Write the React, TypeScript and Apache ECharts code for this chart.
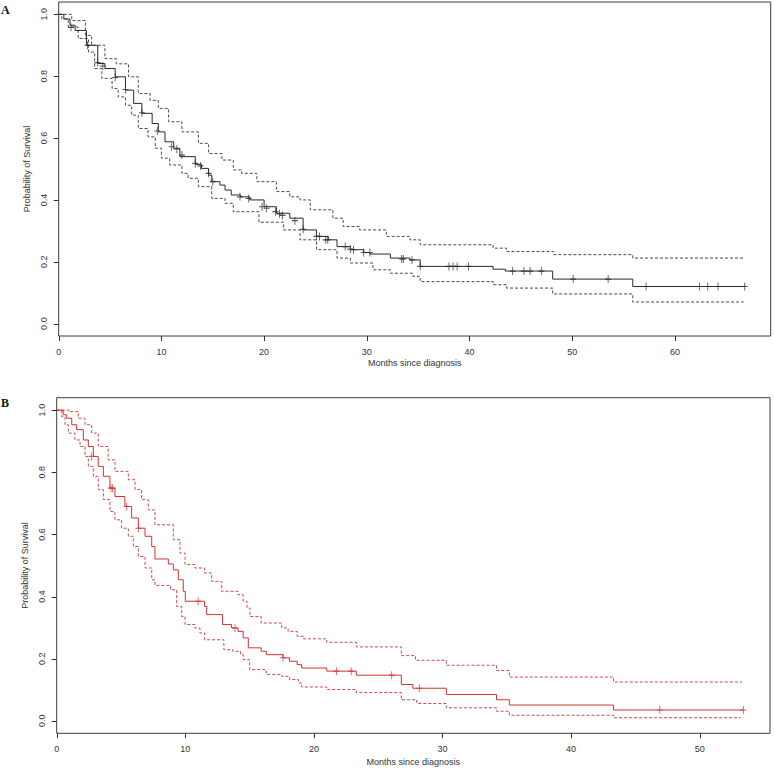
import React, { useEffect, useRef } from 'react';
import * as echarts from 'echarts';

// ---------- Panel A (all patients) : [months, survival] ----------
const survA: number[][] = [
  [0, 1.0], [0.5, 0.985], [1.1, 0.965], [1.6, 0.948], [2.7, 0.9], [3.8, 0.841], [4.5, 0.825],
  [5.5, 0.798], [6.5, 0.755], [7.3, 0.712], [8.1, 0.68], [9.1, 0.647], [9.7, 0.62], [10.35, 0.588],
  [11.2, 0.567], [11.8, 0.54], [13.3, 0.515], [13.9, 0.502], [14.6, 0.48], [14.9, 0.459],
  [15.7, 0.448], [16.2, 0.432], [16.8, 0.416], [17.7, 0.41], [18.6, 0.4], [20.0, 0.378],
  [21.2, 0.357], [22.5, 0.341], [23.8, 0.303], [25.1, 0.282], [26.25, 0.271], [27.1, 0.249],
  [28.4, 0.239], [29.7, 0.23], [30.3, 0.225], [32.3, 0.212], [34.2, 0.206], [35.2, 0.185],
  [42.3, 0.176], [43.5, 0.17], [48.1, 0.144], [55.9, 0.12], [66.8, 0.12]
];
const upperA: number[][] = [
  [0, 1.0], [1.27, 0.98], [2.6, 0.932], [3.2, 0.9], [4.5, 0.857], [5.6, 0.84], [6.8, 0.798],
  [7.75, 0.744], [8.9, 0.722], [9.7, 0.696], [10.7, 0.653], [12.0, 0.62], [13.6, 0.583],
  [14.6, 0.55], [15.9, 0.529], [17.0, 0.497], [17.8, 0.486], [19.3, 0.459], [21.2, 0.427],
  [22.5, 0.41], [23.5, 0.4], [24.5, 0.368], [26.7, 0.341], [27.7, 0.314], [29.3, 0.303],
  [31.9, 0.282], [34.2, 0.271], [35.2, 0.255], [42.3, 0.244], [43.6, 0.233], [48.2, 0.223],
  [55.9, 0.212], [66.8, 0.212]
];
const lowerA: number[][] = [
  [0, 1.0], [0.3, 0.986], [0.93, 0.959], [1.9, 0.922], [2.9, 0.878], [3.5, 0.825], [4.2, 0.793],
  [5.2, 0.76], [5.8, 0.733], [6.5, 0.706], [7.1, 0.674], [7.75, 0.631], [8.7, 0.604], [9.4, 0.567],
  [10.0, 0.535], [10.8, 0.513], [12.0, 0.486], [12.6, 0.47], [13.6, 0.443], [14.9, 0.405],
  [16.2, 0.389], [17.0, 0.362], [19.5, 0.328], [21.9, 0.303], [23.5, 0.271], [25.1, 0.239],
  [27.1, 0.212], [28.4, 0.196], [30.6, 0.174], [32.3, 0.163], [34.5, 0.153], [35.2, 0.136],
  [42.3, 0.126], [43.6, 0.115], [48.1, 0.096], [55.9, 0.07], [66.7, 0.07]
];
const censorA: number[][] = [
  [1.2, 0.958], [2.8, 0.9], [3.8, 0.844], [4.3, 0.833], [5.5, 0.796], [6.5, 0.757], [8.1, 0.682],
  [9.6, 0.623], [11.0, 0.572], [11.5, 0.565], [12.0, 0.545], [13.3, 0.518], [13.8, 0.51],
  [14.6, 0.486], [15.0, 0.459], [17.65, 0.41], [18.5, 0.405], [19.8, 0.378], [20.25, 0.373],
  [21.1, 0.362], [21.5, 0.355], [21.8, 0.35], [23.0, 0.333], [23.8, 0.305], [25.1, 0.282],
  [25.4, 0.282], [26.0, 0.271], [26.2, 0.271], [27.9, 0.249], [28.4, 0.241], [28.7, 0.239],
  [29.7, 0.23], [30.3, 0.23], [33.4, 0.209], [33.55, 0.209], [34.4, 0.206], [35.2, 0.185],
  [38.0, 0.185], [38.4, 0.185], [38.8, 0.185], [39.9, 0.185], [44.2, 0.17], [45.3, 0.17],
  [45.9, 0.17], [47.0, 0.17], [50.1, 0.144], [53.5, 0.144], [57.2, 0.12], [62.4, 0.12],
  [63.2, 0.12], [64.2, 0.12], [66.8, 0.12]
];

// ---------- Panel B : [months, survival] ----------
const survB: number[][] = [
  [0, 1.0], [0.5, 0.985], [0.78, 0.974], [1.17, 0.953], [1.55, 0.937], [2.07, 0.904], [2.46, 0.883],
  [2.85, 0.851], [3.23, 0.819], [3.63, 0.787], [4.14, 0.749], [4.53, 0.722], [5.3, 0.69],
  [5.83, 0.653], [6.35, 0.62], [6.87, 0.594], [7.39, 0.561], [7.64, 0.521], [8.68, 0.505],
  [9.07, 0.486], [9.46, 0.454], [9.84, 0.417], [10.0, 0.385], [11.5, 0.368], [11.66, 0.342],
  [12.9, 0.31], [13.6, 0.299], [14.1, 0.288], [14.5, 0.267], [14.9, 0.235], [15.9, 0.224],
  [16.3, 0.213], [17.6, 0.203], [18.1, 0.192], [18.7, 0.181], [19.05, 0.17], [21.0, 0.16],
  [23.3, 0.147], [26.8, 0.117], [27.7, 0.105], [30.3, 0.085], [34.2, 0.068], [35.2, 0.051],
  [43.3, 0.035], [53.4, 0.035]
];
const upperB: number[][] = [
  [0, 1.0], [1.03, 0.995], [1.68, 0.974], [2.2, 0.953], [2.72, 0.926], [3.23, 0.883], [4.0, 0.84],
  [4.53, 0.803], [5.57, 0.776], [6.09, 0.744], [6.6, 0.712], [7.12, 0.679], [7.64, 0.631],
  [9.07, 0.583], [9.59, 0.54], [9.98, 0.503], [10.75, 0.492], [11.5, 0.476], [12.05, 0.449],
  [12.83, 0.417], [14.1, 0.406], [14.5, 0.385], [14.8, 0.363], [15.03, 0.336], [15.9, 0.315],
  [17.5, 0.299], [18.0, 0.288], [18.7, 0.272], [19.2, 0.264], [21.0, 0.253], [23.3, 0.238],
  [26.8, 0.21], [27.9, 0.195], [30.3, 0.179], [34.2, 0.162], [35.2, 0.141], [43.3, 0.125],
  [53.3, 0.125]
];
const lowerB: number[][] = [
  [0, 1.0], [0.39, 0.979], [0.65, 0.953], [0.9, 0.926], [1.42, 0.904], [1.81, 0.883], [2.2, 0.851],
  [2.46, 0.819], [2.85, 0.787], [3.23, 0.744], [3.63, 0.712], [4.14, 0.674], [4.53, 0.647],
  [5.05, 0.62], [5.57, 0.594], [5.96, 0.561], [6.35, 0.529], [6.87, 0.492], [7.39, 0.454],
  [7.64, 0.436], [8.85, 0.422], [9.33, 0.368], [9.72, 0.336], [9.98, 0.31], [10.75, 0.299],
  [11.14, 0.283], [11.5, 0.261], [13.0, 0.229], [13.7, 0.224], [14.3, 0.213], [14.5, 0.197],
  [15.0, 0.165], [16.3, 0.149], [17.5, 0.143], [18.1, 0.133], [18.8, 0.122], [19.05, 0.109],
  [21.0, 0.101], [23.3, 0.091], [26.8, 0.068], [28.0, 0.056], [30.3, 0.042], [34.2, 0.031],
  [35.2, 0.018], [43.3, 0.01], [53.2, 0.01]
];
const censorB: number[][] = [
  [2.72, 0.851], [4.22, 0.749], [4.35, 0.749], [5.44, 0.69], [6.35, 0.62], [11.0, 0.385],
  [13.87, 0.299], [17.6, 0.203], [21.75, 0.16], [22.9, 0.16], [26.05, 0.147], [28.2, 0.105],
  [46.9, 0.035], [53.4, 0.035]
];

const xTicksA = [0, 10, 20, 30, 40, 50, 60];
const xTicksB = [0, 10, 20, 30, 40, 50];
const yTicks = [0, 0.2, 0.4, 0.6, 0.8, 1.0];
const yMin = -0.04;
const yMax = 1.04;
const xMaxA = 69.33;
const xMaxB = 55.47;
const xTitle = 'Months since diagnosis';
const yTitle = 'Probability of Survival';

const FONT = '"Liberation Sans", Arial, Helvetica, sans-serif';
const FRAME = '#3c3c3c';
const TICK = '#333333';
const COLOR_A = '#2a2a2a';
const COLOR_A_CI = '#4a4a4a';
const COLOR_B = '#cf3434';
const COLOR_B_CI = '#d04848';
const PLUS = 'path://M0,5L10,5M5,0L5,10';
const TICK_LEN = 5;

function xAxisCfg(gi: number, max: number, ticks: number[], gap: number) {
  return {
    gridIndex: gi, type: 'value', min: 0, max,
    axisLine: { show: false, onZero: false },
    splitLine: { show: false },
    axisTick: { show: false },
    axisLabel: { customValues: ticks, fontSize: 9, color: '#333', fontFamily: FONT, margin: 11 },
    name: xTitle, nameLocation: 'middle', nameGap: gap,
    nameTextStyle: { fontSize: 9, color: '#333', fontFamily: FONT },
  };
}
function yAxisCfg(gi: number, gap: number) {
  return {
    gridIndex: gi, type: 'value', min: yMin, max: yMax,
    axisLine: { show: false, onZero: false },
    splitLine: { show: false },
    axisTick: { show: false },
    axisLabel: {
      customValues: yTicks, rotate: 90, fontSize: 9, color: '#333', fontFamily: FONT, margin: 10,
      formatter: (v: number) => v.toFixed(1),
    },
    name: yTitle, nameLocation: 'middle', nameGap: gap,
    nameTextStyle: { fontSize: 9, color: '#333', fontFamily: FONT },
  };
}
function stepLine(gi: number, data: number[][], color: string, dashed: boolean) {
  return {
    type: 'line', xAxisIndex: gi, yAxisIndex: gi, data, step: 'end', symbol: 'none',
    lineStyle: { color, width: 1, type: dashed ? [3, 2] : 'solid' },
    silent: true, z: dashed ? 2 : 3,
  };
}
function censor(gi: number, data: number[][], color: string) {
  return {
    type: 'scatter', xAxisIndex: gi, yAxisIndex: gi, data, symbol: PLUS, symbolSize: [6, 8],
    itemStyle: { color: 'none', borderColor: color, borderWidth: 1 }, silent: true, z: 4,
  };
}

export default function App() {
  const ref = useRef<HTMLDivElement>(null);
  useEffect(() => {
    if (!ref.current) return;
    const chart = echarts.init(ref.current, null, { renderer: 'svg' });
    chart.setOption({
      animation: false,
      backgroundColor: '#ffffff',
      grid: [
        { left: 58.7, top: 2, width: 712, height: 334, show: true, borderColor: FRAME, borderWidth: 1 },
        { left: 56.7, top: 397.7, width: 713.3, height: 335.6, show: true, borderColor: FRAME, borderWidth: 1 },
      ],
      xAxis: [xAxisCfg(0, xMaxA, xTicksA, 22), xAxisCfg(1, xMaxB, xTicksB, 24)],
      yAxis: [yAxisCfg(0, 25), yAxisCfg(1, 24)],
      series: [
        stepLine(0, upperA, COLOR_A_CI, true),
        stepLine(0, lowerA, COLOR_A_CI, true),
        stepLine(0, survA, COLOR_A, false),
        censor(0, censorA, COLOR_A),
        stepLine(1, upperB, COLOR_B_CI, true),
        stepLine(1, lowerB, COLOR_B_CI, true),
        stepLine(1, survB, COLOR_B, false),
        censor(1, censorB, COLOR_B),
      ],
    });

    // outward tick marks, positioned through the axes' own scales
    const tickEls: any[] = [];
    const panels: [number, number[]][] = [[0, xTicksA], [1, xTicksB]];
    panels.forEach(([gi, xt]) => {
      xt.forEach((v) => {
        const p = chart.convertToPixel({ gridIndex: gi }, [v, yMin]) as number[] | undefined;
        if (!p) return;
        const x = Math.round(p[0]) + 0.5;
        tickEls.push({
          type: 'line', silent: true, z: 10,
          shape: { x1: x, y1: p[1], x2: x, y2: p[1] + TICK_LEN },
          style: { stroke: TICK, lineWidth: 1 },
        });
      });
      yTicks.forEach((v) => {
        const p = chart.convertToPixel({ gridIndex: gi }, [0, v]) as number[] | undefined;
        if (!p) return;
        const y = Math.round(p[1]) + 0.5;
        tickEls.push({
          type: 'line', silent: true, z: 10,
          shape: { x1: p[0] - TICK_LEN, y1: y, x2: p[0], y2: y },
          style: { stroke: TICK, lineWidth: 1 },
        });
      });
    });

    chart.setOption({
      graphic: [
        { type: 'text', left: 1, top: 4, style: { text: 'A', font: 'bold 12px "Liberation Serif", serif', fill: '#111' } },
        { type: 'text', left: 1, top: 397, style: { text: 'B', font: 'bold 12px "Liberation Serif", serif', fill: '#111' } },
        ...tickEls,
      ],
    });
    return () => chart.dispose();
  }, []);
  return <div ref={ref} style={{ position: 'absolute', left: 0, top: 0, width: 774, height: 769 }} />;
}
